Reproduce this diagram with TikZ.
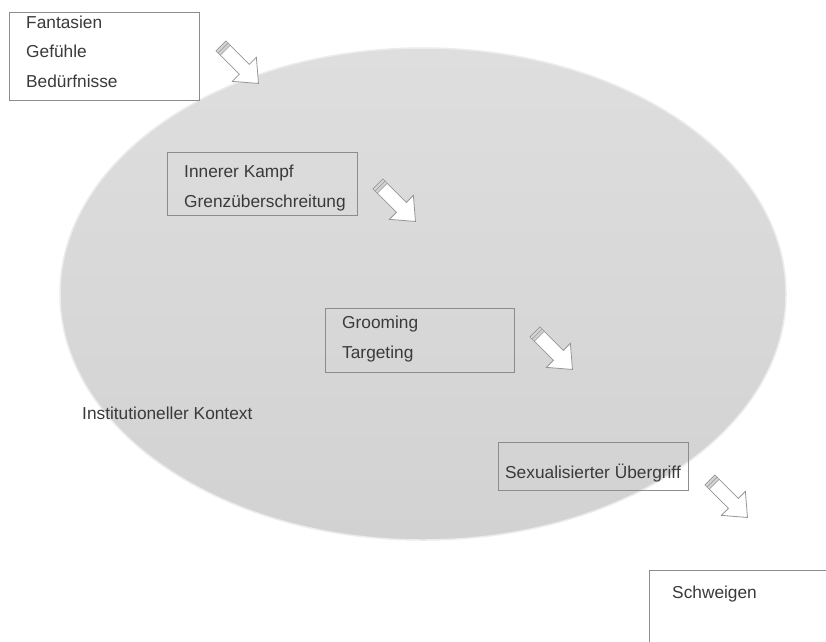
\documentclass[tikz,border=0pt]{standalone}
\usepackage{fontspec}
\setmainfont{Liberation Sans}
\definecolor{txt}{RGB}{58,58,58}
\definecolor{boxline}{RGB}{140,140,140}
\definecolor{arrline}{RGB}{150,150,150}
\definecolor{elltop}{RGB}{222,222,222}
\definecolor{ellbot}{RGB}{210,210,210}
\definecolor{elledge}{RGB}{236,236,236}
\begin{document}
\begin{tikzpicture}[x=1pt,y=-1pt,
  label/.style={anchor=base west,inner sep=0pt,text=txt,font=\fontsize{17.3}{20}\selectfont},
  framebox/.style={draw=boxline,line width=0.9pt},
  blockarrow/.pic={
    \draw[arrline,line width=0.8pt,fill=white,line join=miter]
      (0,-7) -- (33,-7) -- (33,-17) -- (53,0) -- (33,17) -- (33,7) -- (0,7) -- cycle;
    \fill[gray!35] (0.5,-6.5) rectangle (6,6.5);
    \draw[arrline,line width=0.6pt] (3,-7) -- (3,7);
    \draw[arrline,line width=0.6pt] (6,-7) -- (6,7);
  }]
\clip (0,0) rectangle (826,641);
\fill[white] (0,0) rectangle (826,641);
% institutional context ellipse
\shade[top color=elltop,bottom color=ellbot,draw=elledge,line width=1.5pt]
  (423,294) ellipse [x radius=363,y radius=246];
\node[label] (ctx) at (82,419) {Institutioneller Kontext};
% box 1
\draw[framebox,fill=white] (9,12) rectangle (199,100);
\node[label] (fan) at (26,28) {Fantasien};
\node[label] (gef) at (26,57) {Gefühle};
\node[label] (bed) at (26,87) {Bedürfnisse};
% box 2
\draw[framebox] (167,152) rectangle (357,215);
\node[label] (ink) at (184,177) {Innerer Kampf};
\node[label] (grz) at (184,207) {Grenzüberschreitung};
% box 3
\draw[framebox] (325,308) rectangle (514,372);
\node[label] (gro) at (342,328) {Grooming};
\node[label] (tar) at (342,358) {Targeting};
% box 4
\draw[framebox] (498,442) rectangle (688,490);
\node[label] (sex) at (505,478) {Sexualisierter Übergriff};
% box 5
\draw[framebox,fill=white] (649,570) rectangle (840,660);
\node[label] (sch) at (672,598) {Schweigen};
% block arrows
\pic[rotate=-45] at (221,46) {blockarrow};
\pic[rotate=-45] at (378,184) {blockarrow};
\pic[rotate=-45] at (535,332) {blockarrow};
\pic[rotate=-45] at (710,480) {blockarrow};
\end{tikzpicture}
\end{document}
